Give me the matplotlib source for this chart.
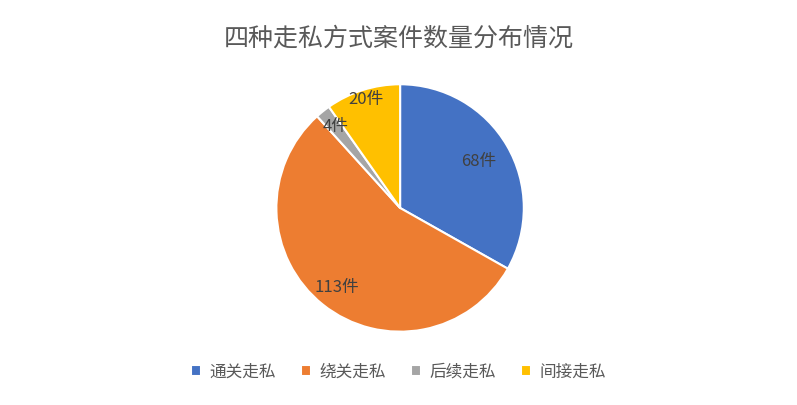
import matplotlib.pyplot as plt

plt.rcParams['font.family'] = ['Noto Sans CJK SC', 'DejaVu Sans']

categories = ['通关走私', '绕关走私', '后续走私', '间接走私']
counts = [68, 113, 4, 20]
colors = ['#4472C4', '#ED7D31', '#A5A5A5', '#FFC000']
label_dist = [0.74, 0.82, 0.84, 0.92]

fig = plt.figure(figsize=(7.97, 4.05), dpi=100)
ax = fig.add_axes([0.345, 0.178, 0.314, 0.617])

wedges, texts = ax.pie(counts, colors=colors, startangle=90, counterclock=False,
                       labels=[f'{c}件' for c in counts], labeldistance=0.8,
                       wedgeprops=dict(edgecolor='white', linewidth=1.5),
                       textprops=dict(color='#404040', fontsize=12))
for t, d in zip(texts, label_dist):
    x, y = t.get_position()
    t.set_position((x / 0.8 * d, y / 0.8 * d))
    t.set_ha('center')
    t.set_va('center')
ax.set_xlim(-1.01, 1.01)
ax.set_ylim(-1.01, 1.01)
ax.set_aspect('equal')

fig.text(0.5, 0.905, '四种走私方式案件数量分布情况', ha='center', va='center',
         fontsize=18, color='#595959')
fig.legend(wedges, categories, loc='center', bbox_to_anchor=(0.5, 0.082), ncol=4,
           frameon=False, fontsize=12, handlelength=0.6, handleheight=0.6,
           columnspacing=1.5, handletextpad=0.5, labelcolor='#595959')

fig.savefig('out.png', dpi=100)
